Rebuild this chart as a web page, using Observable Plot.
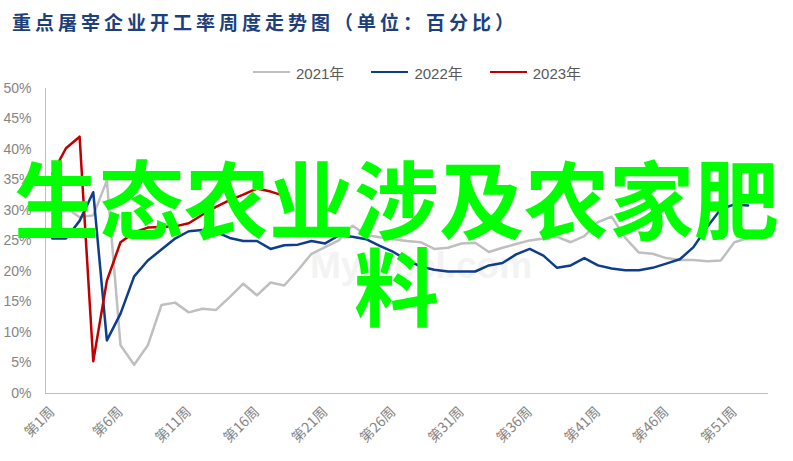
<!DOCTYPE html>
<html><head><meta charset="utf-8">
<script src="https://cdn.jsdelivr.net/npm/d3@7"></script>
<script src="https://cdn.jsdelivr.net/npm/@observablehq/plot@0.6"></script>
<style>
body{margin:0;background:#fff;width:793px;height:461px;overflow:hidden;position:relative;font-family:"Noto Sans CJK SC","Liberation Sans",sans-serif;}
#title{position:absolute;left:12px;top:8px;font-size:19px;font-weight:bold;color:#1d3f7c;letter-spacing:4px;white-space:nowrap;line-height:28px;}
#legend{position:absolute;left:253px;top:62px;height:20px;display:flex;align-items:center;font-size:15px;color:#595959;font-family:"Liberation Sans","Noto Sans CJK SC",sans-serif;}
.item{display:flex;align-items:center;margin-right:27px}
.sw{width:37px;height:0;border-top:2.5px solid;margin-right:6px}
#chart{position:absolute;left:0;top:80px;}
#wm{position:absolute;left:310px;top:245px;font-size:37px;color:#f3f3f3;font-family:"Liberation Sans";font-weight:bold;white-space:nowrap}
#overlay{position:absolute;left:0;top:152px;width:793px;text-align:center;font-size:85px;line-height:87px;color:#00ff00;font-weight:bold;}
</style></head>
<body>
<div id="title">重点屠宰企业开工率周度走势图（单位：百分比）</div>
<div id="legend"></div>
<div id="wm">Mysteel.com</div>
<div id="chart"></div>
<div id="overlay">生态农业涉及农家肥料</div>
<script>
const years = ["2021年", "2022年", "2023年"];
const colors = ["#bfbfbf", "#0e3d8c", "#c00000"];
const yTicks = [0, 5, 10, 15, 20, 25, 30, 35, 40, 45, 50];
const xTicks = [1, 6, 11, 16, 21, 26, 31, 36, 41, 46, 51];
const values2021 = [29.5, 30.5, 28.9, 29.2, 34.9, 7.9, 4.7, 7.9, 14.5, 14.9, 13.3, 13.9, 13.7, 15.8, 18.0, 16.1, 18.2, 17.7, 20.2, 22.9, 24.0, 25.1, 27.5, 26.0, 25.6, 25.3, 25.0, 24.8, 23.7, 23.9, 24.6, 24.7, 23.2, 23.9, 24.5, 25.1, 25.4, 25.7, 24.8, 25.8, 28.1, 29.0, 25.5, 23.1, 22.9, 22.2, 21.9, 21.9, 21.7, 21.8, 24.8, 25.5];
const values2022 = [25.4, 25.4, 28.3, 33.0, 8.7, 13.1, 19.2, 21.8, 23.6, 25.4, 26.6, 26.8, 26.5, 25.5, 25.0, 25.0, 23.7, 24.3, 24.4, 25.0, 24.6, 25.9, 25.7, 25.3, 24.2, 23.2, 21.9, 20.8, 20.3, 20.0, 20.0, 20.0, 21.0, 21.4, 22.8, 23.7, 22.6, 20.6, 21.0, 22.2, 21.0, 20.5, 20.2, 20.2, 20.6, 21.3, 22.0, 24.0, 27.3, 30.2, 31.0, 30.8];
const values2023 = [36.0, 40.2, 42.1, 5.3, 18.5, 24.8, 26.4, 27.2, 27.3, 27.4, 27.9, 29.3, 30.6, 31.7, 32.6, 33.6, 33.1, 32.4];

const allValues = [values2021, values2022, values2023];
const data = allValues.flatMap((vals, k) => vals.map((v, i) => ({week: i + 1, value: v, year: years[k]})));

// legend
const lg = document.getElementById("legend");
years.forEach((y, k) => {
  const it = document.createElement("div"); it.className = "item";
  const sw = document.createElement("div"); sw.className = "sw"; sw.style.borderTopColor = colors[k];
  const tx = document.createElement("span"); tx.textContent = y;
  it.appendChild(sw); it.appendChild(tx); lg.appendChild(it);
});

const chart = Plot.plot({
  width: 793, height: 381,
  marginTop: 8, marginBottom: 68, marginLeft: 45, marginRight: 25,
  style: {background: "transparent", color: "#858585", fontFamily: "'Liberation Sans','Noto Sans CJK SC',sans-serif", overflow: "visible"},
  x: {type: "linear", domain: [0.5, 53.5]},
  y: {domain: [0, 50]},
  color: {domain: years, range: colors},
  marks: [
    Plot.ruleY([0], {stroke: "#bfbfbf", strokeWidth: 1}),
    Plot.ruleX([0.5], {stroke: "#bfbfbf", strokeWidth: 1}),
    Plot.axisY({ticks: yTicks, tickSize: 0, tickPadding: 14, tickFormat: d => d + "%", fontSize: 14, label: null}),
    Plot.axisX({ticks: xTicks, tickSize: 0, tickPadding: 16, tickRotate: -45, tickFormat: d => `第${d}周`, fontSize: 14, fontFamily: "'Noto Sans CJK SC',sans-serif", label: null}),
    Plot.line(data, {x: "week", y: "value", z: "year", stroke: "year", strokeWidth: 2.5, strokeLinejoin: "round"})
  ]
});
document.getElementById("chart").appendChild(chart);
</script>
</body></html>
